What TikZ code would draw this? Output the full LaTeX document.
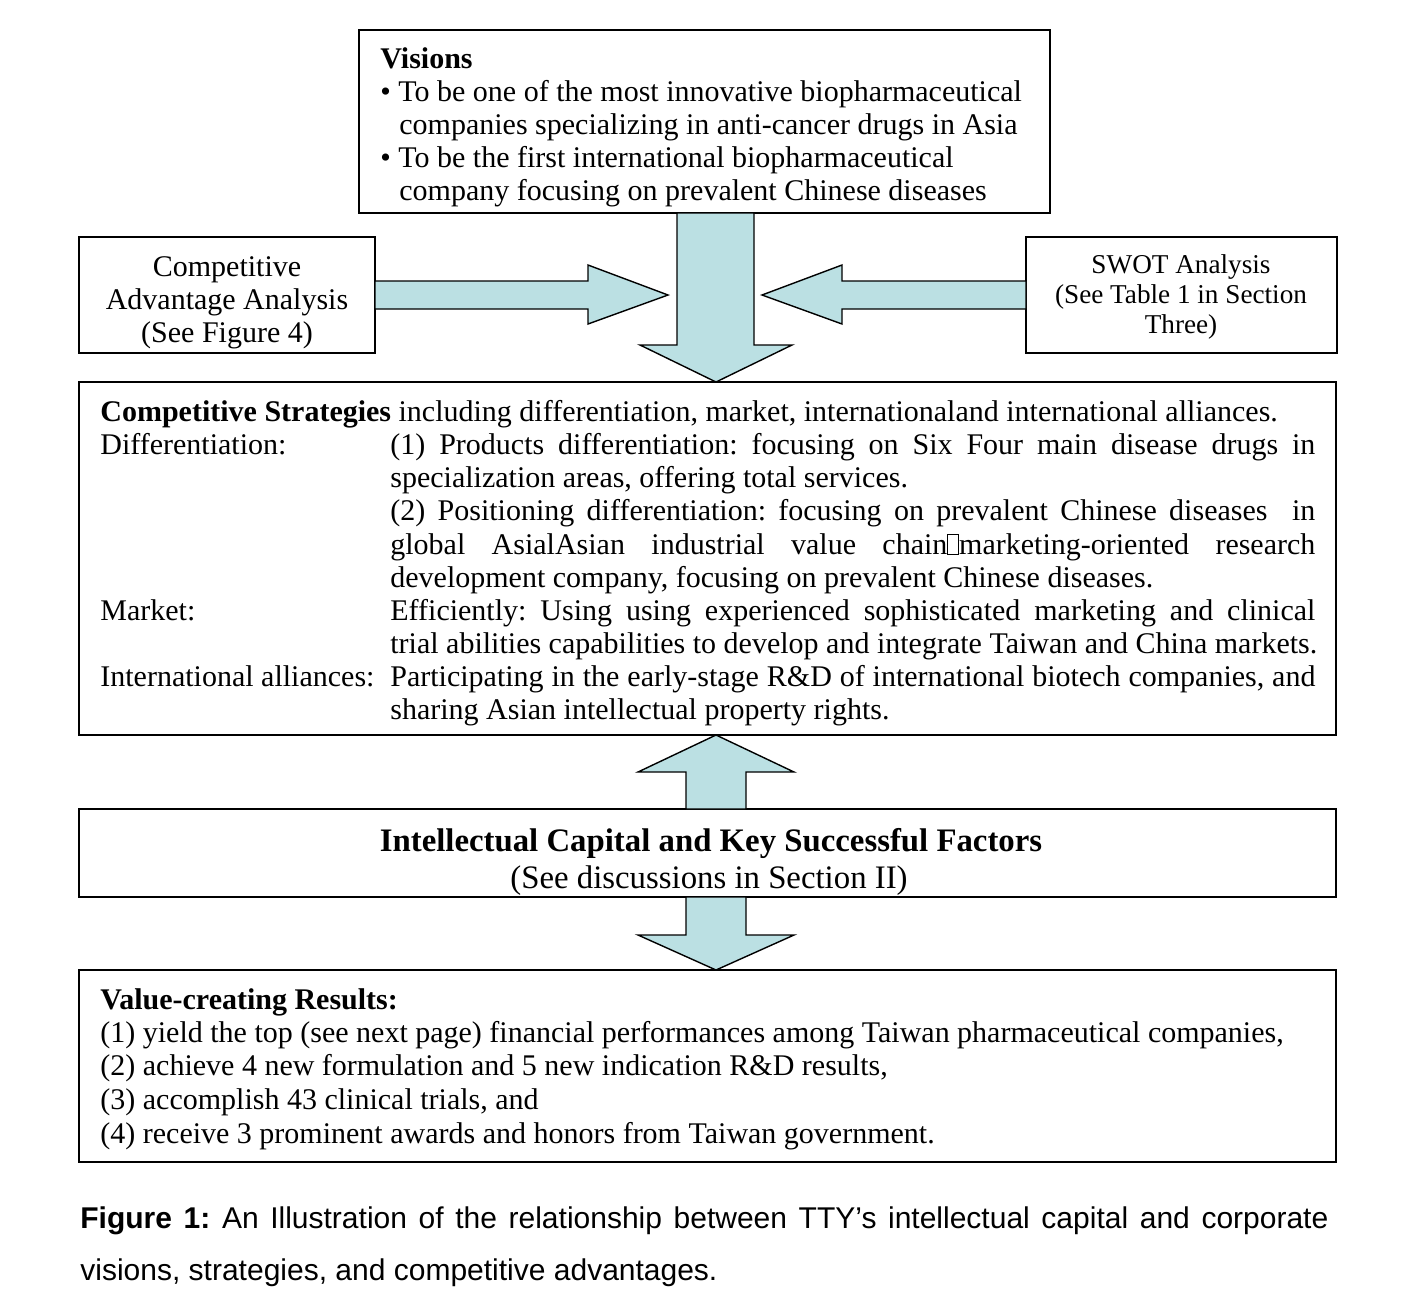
\documentclass[tikz,border=0pt]{standalone}
\usepackage{fontspec}
\setmainfont{Liberation Serif}
\newfontfamily\capfont{Liberation Sans}
\usetikzlibrary{calc}
\definecolor{arrowfill}{RGB}{187,224,227}
\newcommand{\missingglyph}{{\setlength\fboxsep{0pt}\setlength\fboxrule{0.45pt}\fbox{\rule{0pt}{9.5pt}\hspace{5pt}}}}
\newcommand{\jline}[1]{\makebox[462.5pt][s]{#1}}
\frenchspacing
\begin{document}
\begin{tikzpicture}[x=0.5pt,y=-0.5pt,
  box/.style={draw, line width=0.8pt, inner sep=0pt, outer sep=0pt},
  blockarrow/.style={draw, line width=0.7pt, fill=arrowfill, line join=miter},
  ln/.style={anchor=base west, inner sep=0pt, yshift=-1pt, font=\fontsize{15pt}{16.5pt}\selectfont},
  cln/.style={anchor=base, inner sep=0pt, yshift=-1pt, font=\fontsize{15pt}{16.5pt}\selectfont},
  sln/.style={anchor=base, inner sep=0pt, yshift=-1pt, font=\fontsize{13.6pt}{15pt}\selectfont},
  tln/.style={anchor=base, inner sep=0pt, yshift=-1pt, font=\fontsize{16.4pt}{18pt}\selectfont},
  capln/.style={anchor=base west, inner sep=0pt, yshift=-0.5pt, font=\capfont\fontsize{15pt}{18pt}\selectfont}]
\useasboundingbox (0,0) rectangle (1412,1302);
\fill[white] (0,0) rectangle (1412,1302);

% boxes
\node[box, minimum width=345.5pt, minimum height=91.5pt] (vis) at (704.5,121.5) {};
\node[box, minimum width=148pt, minimum height=58pt] (cas) at (227,295) {};
\node[box, minimum width=155.5pt, minimum height=58pt] (swot) at (1181.5,295) {};
\node[box, minimum width=628.5pt, minimum height=176.5pt] (strat) at (707.5,558.5) {};
\node[box, minimum width=628.5pt, minimum height=44pt] (icksf) at (707.5,853) {};
\node[box, minimum width=628.5pt, minimum height=96pt] (res) at (707.5,1066) {};

\coordinate (ax) at (716,0);
\coordinate (ltip) at (668,295);
\coordinate (rtip) at (762,295);

% block arrows
\draw[blockarrow] ($(vis.south -| ax)+(-39,0)$) -- ($(strat.north -| ax)+(-39,-37)$) -- ($(strat.north -| ax)+(-76,-37)$) -- (strat.north -| ax) -- ($(strat.north -| ax)+(76,-37)$) -- ($(strat.north -| ax)+(38,-37)$) -- ($(vis.south -| ax)+(38,0)$) -- cycle;
\draw[blockarrow] ($(cas.east)+(0,-14)$) -- ($(ltip)+(-80,-14)$) -- ($(ltip)+(-80,-30)$) -- (ltip) -- ($(ltip)+(-80,29)$) -- ($(ltip)+(-80,14)$) -- ($(cas.east)+(0,14)$) -- cycle;
\draw[blockarrow] ($(swot.west)+(0,-14)$) -- ($(rtip)+(80,-14)$) -- ($(rtip)+(80,-30)$) -- (rtip) -- ($(rtip)+(80,29)$) -- ($(rtip)+(80,14)$) -- ($(swot.west)+(0,14)$) -- cycle;
\draw[blockarrow] ($(icksf.north -| ax)+(-30,0)$) -- ($(strat.south -| ax)+(-30,37)$) -- ($(strat.south -| ax)+(-78,37)$) -- (strat.south -| ax) -- ($(strat.south -| ax)+(78,37)$) -- ($(strat.south -| ax)+(30,37)$) -- ($(icksf.north -| ax)+(30,0)$) -- cycle;
\draw[blockarrow] ($(icksf.south -| ax)+(-30,0)$) -- ($(res.north -| ax)+(-30,-35)$) -- ($(res.north -| ax)+(-78,-35)$) -- (res.north -| ax) -- ($(res.north -| ax)+(78,-35)$) -- ($(res.north -| ax)+(30,-35)$) -- ($(icksf.south -| ax)+(30,0)$) -- cycle;

% Visions text
\node[ln] (v1) at (380,66) {\textbf{Visions}};
\node[ln] (v2) at (380,99) {• To be one of the most innovative biopharmaceutical};
\node[ln] (v3) at (399,132) {companies specializing in anti-cancer drugs in Asia};
\node[ln] (v4) at (380,165) {• To be the first international biopharmaceutical};
\node[ln] (v5) at (399,198) {company focusing on prevalent Chinese diseases};

% Competitive advantage
\node[cln] (c1) at (227,274) {Competitive};
\node[cln] (c2) at (227,307) {Advantage Analysis};
\node[cln] (c3) at (227,340) {(See Figure 4)};

% SWOT
\node[sln] (s1) at (1181,271) {SWOT Analysis};
\node[sln] (s2) at (1181,301) {(See Table 1 in Section};
\node[sln] (s3) at (1181,331) {Three)};

% Strategies
\node[ln] (t1) at (100,419) {\textbf{Competitive Strategies} including differentiation, market, internationaland international alliances.};
\node[ln] (l2) at (100,452) {Differentiation:};
\node[ln] (t2) at (390,452) {\jline{(1) Products differentiation: focusing on Six Four main disease drugs in}};
\node[ln] (t3) at (390,485) {specialization areas, offering total services.};
\node[ln] (t4) at (390,518) {\jline{(2) Positioning differentiation: focusing on prevalent Chinese diseases \ in}};
\node[ln] (t5) at (390,552) {\jline{global AsialAsian industrial value chain\missingglyph marketing-oriented research}};
\node[ln] (t6) at (390,585) {development company, focusing on prevalent Chinese diseases.};
\node[ln] (l7) at (100,618) {Market:};
\node[ln] (t7) at (390,618) {\jline{Efficiently: Using using experienced sophisticated marketing and clinical}};
\node[ln] (t8) at (390,651) {trial abilities capabilities to develop and integrate Taiwan and China markets.};
\node[ln] (l9) at (100,684) {International alliances:};
\node[ln] (t9) at (390,684) {\jline{Participating in the early-stage R\&D of international biotech companies, and}};
\node[ln] (t10) at (390,717) {sharing Asian intellectual property rights.};

% Intellectual capital
\node[tln] (i1) at (711,849) {\textbf{Intellectual Capital and Key Successful Factors}};
\node[tln] (i2) at (709,886) {(See discussions in Section II)};

% Results
\node[ln] (r1) at (100,1007) {\textbf{Value-creating Results:}};
\node[ln] (r2) at (100,1040) {(1) yield the top (see next page) financial performances among Taiwan pharmaceutical companies,};
\node[ln] (r3) at (100,1073) {(2) achieve 4 new formulation and 5 new indication R\&D results,};
\node[ln] (r4) at (100,1107) {(3) accomplish 43 clinical trials, and};
\node[ln] (r5) at (100,1141) {(4) receive 3 prominent awards and honors from Taiwan government.};

% Caption
\node[capln] (cap1) at (80,1227) {\makebox[624pt][s]{\textbf{Figure 1:} An Illustration of the relationship between TTY’s intellectual capital and corporate}};
\node[capln] (cap2) at (80,1279) {visions, strategies, and competitive advantages.};
\end{tikzpicture}
\end{document}
